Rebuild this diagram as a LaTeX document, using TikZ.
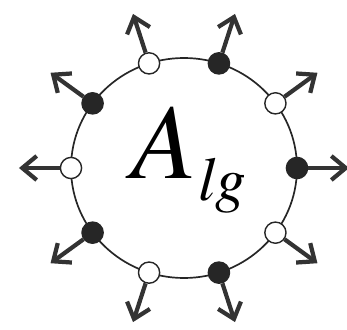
\documentclass[tikz,border=0pt]{standalone}
\usepackage{fontspec}
\setmainfont{texgyretermes}[Extension=.otf, UprightFont=*-regular, ItalicFont=*-italic]
\usepackage{tikz}
\usetikzlibrary{arrows.meta}

\begin{document}
\begin{tikzpicture}[
  x=0.025cm, y=0.025cm,
  ring/.style={draw=black!85, line width=1.2pt},
  fulldot/.style={circle, draw=black!85, fill=black!85, line width=1pt, minimum size=0.53cm, inner sep=0pt},
  opendot/.style={circle, draw=black!85, fill=white, line width=1pt, minimum size=0.53cm, inner sep=0pt},
  arrow/.style={-{Straight Barb[length=3.6mm, width=6mm]}, line width=3pt, draw=black!80}
]
\useasboundingbox (-184,-161) rectangle (163,168);
\draw[ring] (0,0) ellipse (113 and 110);
% ten sites round the ring, alternating filled and open
\foreach \i in {0,...,9} {
  \pgfmathtruncatemacro{\odd}{mod(\i,2)}
  \ifnum\odd=0
    \node[fulldot] (p\i) at ({113*cos(36*\i)},{110*sin(36*\i)}) {};
  \else
    \node[opendot] (p\i) at ({113*cos(36*\i)},{110*sin(36*\i)}) {};
  \fi
  \coordinate (t\i) at ({165*cos(36*\i)},{162*sin(36*\i)});
  \draw[arrow] (p\i) -- (t\i);
}
\node[anchor=base west, inner sep=0pt, font=\fontsize{76}{76}\selectfont\itshape] (label) at (-53,-10) {A};
\node[anchor=base west, inner sep=0pt, font=\fontsize{44}{44}\selectfont\itshape] (sub) at (14,-32) {lg};
\end{tikzpicture}
\end{document}
